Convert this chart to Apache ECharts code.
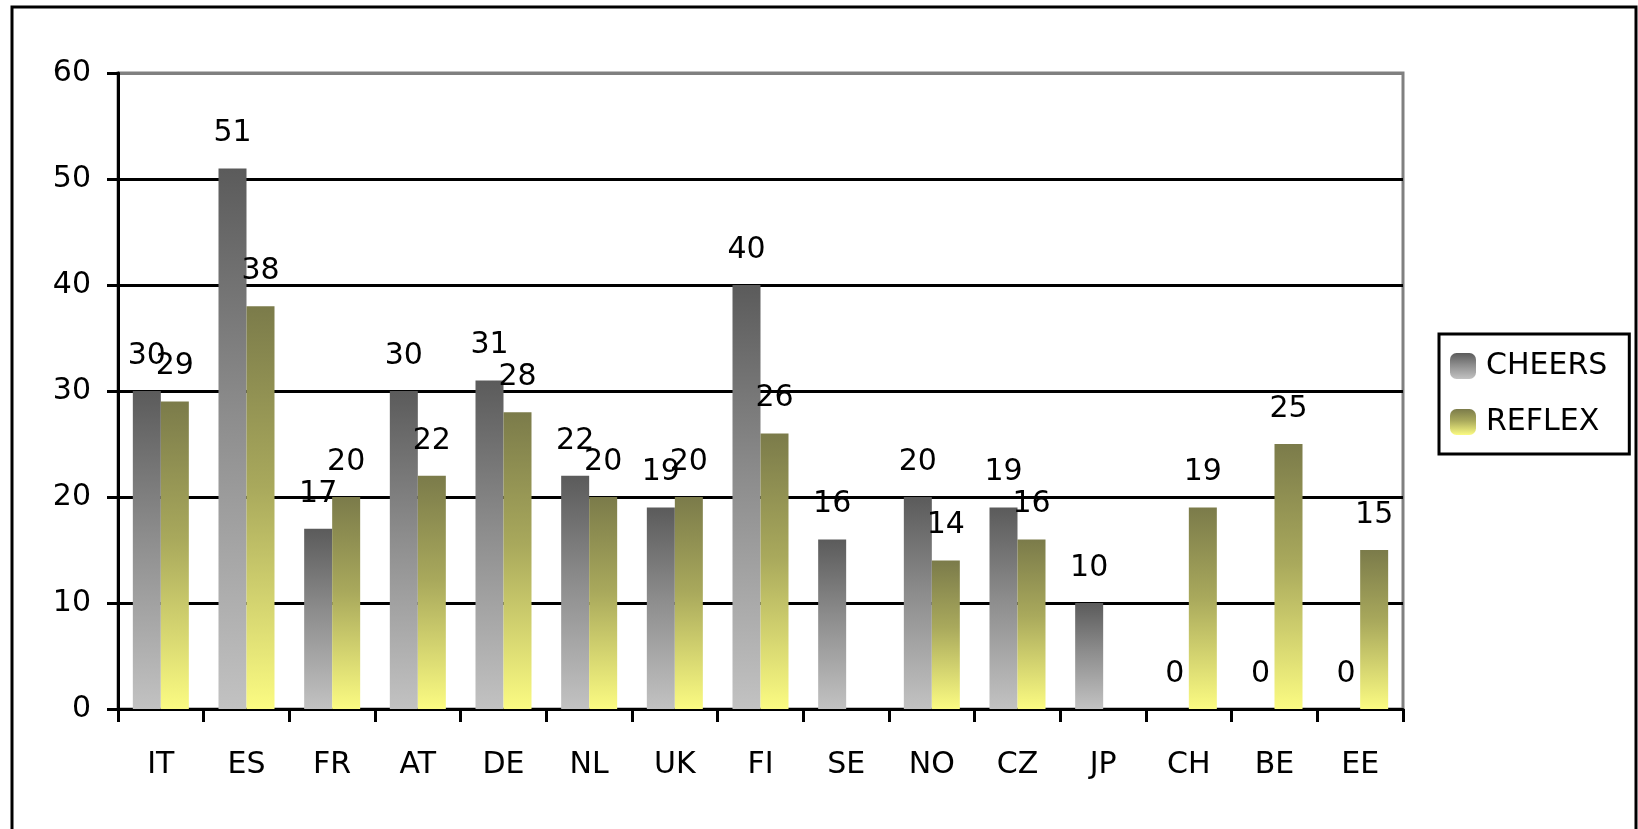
<!DOCTYPE html>
<html>
<head>
<meta charset="utf-8">
<title>CHEERS / REFLEX</title>
<script src="https://cdn.jsdelivr.net/npm/echarts@6/dist/echarts.min.js"></script>
<style>
    html, body { margin: 0; padding: 0; background: #fff; }
    #chart { width: 1638px; height: 829px; }
</style>
</head>
<body>
<div id="chart"></div>
<script>
// data
const countries = ["IT", "ES", "FR", "AT", "DE", "NL", "UK", "FI", "SE", "NO", "CZ", "JP", "CH", "BE", "EE"];
const cheers = [30, 51, 17, 30, 31, 22, 19, 40, 16, 20, 19, 10, 0, 0, 0];
const reflex = [29, 38, 20, 22, 28, 20, 20, 26, null, 14, 16, null, 19, 25, 15];
const yMax = 60;
const yStep = 10;

const font = "DejaVu Sans";
const fontSize = 30;

// vertical gradients, dark at the top, light at the bottom
const grayFill = new echarts.graphic.LinearGradient(0, 0, 0, 1, [
    { offset: 0, color: "#5b5b5b" },
    { offset: 0.45, color: "#8c8c8c" },
    { offset: 1, color: "#c2c2c2" },
]);
const yellowFill = new echarts.graphic.LinearGradient(0, 0, 0, 1, [
    { offset: 0, color: "#7b7b4a" },
    { offset: 0.45, color: "#a9a95c" },
    { offset: 1, color: "#fbfb82" },
]);

const barLabel = {
    show: true,
    position: "top",
    distance: 20,
    color: "#000",
    fontFamily: font,
    fontSize: fontSize,
};

const chart = echarts.init(document.getElementById("chart"));

chart.setOption({
    animation: false,
    backgroundColor: "#fff",
    textStyle: { fontFamily: font },
    graphic: [
        {
            // outer frame (bottom edge runs off the picture)
            type: "rect",
            shape: { x: 12, y: 7, width: 1624, height: 900 },
            style: { fill: "none", stroke: "#000", lineWidth: 3 },
            silent: true,
        },
    ],
    legend: {
        orient: "vertical",
        left: 1439,
        top: 334,
        padding: [17, 22, 17, 11],
        itemGap: 26,
        itemWidth: 26,
        itemHeight: 26,
        borderColor: "#000",
        borderWidth: 3,
        backgroundColor: "#fff",
        textStyle: { color: "#000", fontSize: fontSize, fontFamily: font, padding: [0, 0, 0, 5] },
        data: ["CHEERS", "REFLEX"],
    },
    grid: {
        left: 118,
        right: 235,
        top: 73,
        bottom: 120,
        show: true,
        borderColor: "#808080",
        borderWidth: 3,
    },
    xAxis: {
        type: "category",
        data: countries,
        axisLine: { show: true, lineStyle: { color: "#000", width: 3 } },
        axisTick: { show: true, length: 13, lineStyle: { color: "#000", width: 3 } },
        axisLabel: { color: "#000", fontSize: fontSize, fontFamily: font, margin: 41 },
    },
    yAxis: {
        type: "value",
        min: 0,
        max: yMax,
        interval: yStep,
        axisLine: { show: true, lineStyle: { color: "#000", width: 3 } },
        axisTick: { show: true, length: 11, lineStyle: { color: "#000", width: 3 } },
        axisLabel: { color: "#000", fontSize: fontSize, fontFamily: font, margin: 27 },
        splitLine: {
            show: true,
            lineStyle: { color: ["#000", "#000", "#000", "#000", "#000", "#000", "#808080"], width: 3 },
        },
    },
    series: [
        {
            name: "CHEERS",
            type: "bar",
            data: cheers,
            barWidth: 28,
            barGap: "0%",
            itemStyle: { color: grayFill },
            label: barLabel,
        },
        {
            name: "REFLEX",
            type: "bar",
            data: reflex,
            barWidth: 28,
            barGap: "0%",
            itemStyle: { color: yellowFill },
            label: barLabel,
        },
    ],
});
</script>
</body>
</html>
